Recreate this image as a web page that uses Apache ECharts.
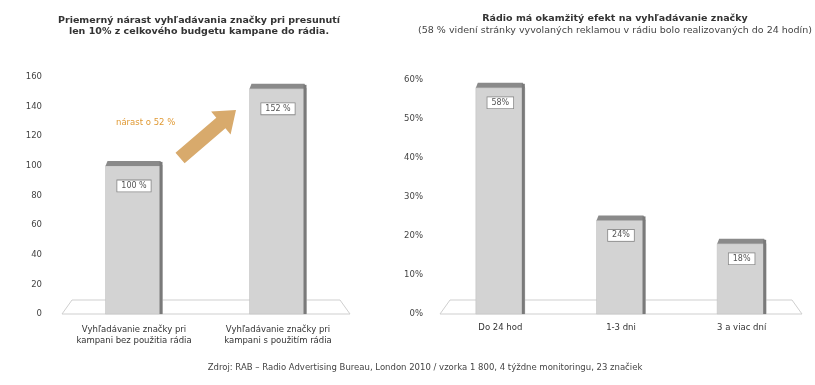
<!DOCTYPE html>
<html><head><meta charset="utf-8">
<script src="https://cdn.jsdelivr.net/npm/echarts@6/dist/echarts.min.js"></script>
<style>html,body{margin:0;padding:0;background:#fff}#c{width:815px;height:385px}</style>
</head><body><div id="c"></div>
<script>
// Data
const leftCategories = ['Vyhľadávanie značky pri\nkampani bez použitia rádia', 'Vyhľadávanie značky pri\nkampani s použitím rádia'];
const leftValues = [100, 152];
const leftLabels = ['100 %', '152 %'];
const rightCategories = ['Do 24 hod', '1-3 dni', '3 a viac dní'];
const rightValues = [58, 24, 18];
const rightLabels = ['58%', '24%', '18%'];

const chart = echarts.init(document.getElementById('c'));
const FONT = 'DejaVu Sans, Verdana, sans-serif';

function makeRender(labels, barW, labelOff) {
  return function (params, api) {
    const idx = api.value(0);
    const val = api.value(1);
    const top = api.coord([idx, val]);
    const base = api.coord([idx, 0]);
    const cs = params.coordSys;
    const x0 = top[0] - barW / 2, x1 = top[0] + barW / 2;
    const d = 5;
    const children = [];
    if (params.dataIndex === 0) {
      children.push({
        type: 'polygon', z2: 0,
        shape: { points: [[cs.x, cs.y + cs.height], [cs.x + cs.width, cs.y + cs.height], [cs.x + cs.width - 10, cs.y + cs.height - 14], [cs.x + 10, cs.y + cs.height - 14]] },
        style: { fill: '#ffffff', stroke: '#cfcfcf', lineWidth: 1 }
      });
    }
    children.push({
      type: 'rect', z2: 5,
      shape: { x: x0, y: top[1], width: barW, height: base[1] - top[1] },
      style: { fill: '#d3d3d3', stroke: '#bdbdbd', lineWidth: 0.5 }
    });
    children.push({
      type: 'polygon', z2: 6,
      shape: { points: [[x0, top[1]], [x1, top[1]], [x1 - 2, top[1] - d], [x0 + 2, top[1] - d]] },
      style: { fill: '#8a8a8a' }
    });
    children.push({
      type: 'rect', z2: 6,
      shape: { x: x1 - 3, y: top[1] - d + 1, width: 3, height: base[1] - top[1] + d - 1 },
      style: { fill: '#7a7a7a' }
    });
    children.push({
      type: 'text', z2: 7,
      x: top[0], y: top[1] + labelOff,
      style: {
        text: labels[idx], align: 'center', verticalAlign: 'middle',
        fontFamily: FONT, fontSize: 8, fill: '#555',
        backgroundColor: '#ffffff', borderColor: '#888', borderWidth: 0.8,
        padding: [2, 4, 1, 4]
      }
    });
    return { type: 'group', children };
  };
}

const axisLabelStyle = { fontFamily: FONT, fontSize: 8.5, color: '#444' };

chart.setOption({
  backgroundColor: '#fff',
  animation: false,
  title: [
    { text: 'Priemerný nárast vyhľadávania značky pri presunutí\nlen 10% z celkového budgetu kampane do rádia.', left: 194, top: 10, textAlign: 'center',
      textStyle: { fontFamily: FONT, fontSize: 9.5, fontWeight: 'bold', color: '#333', lineHeight: 11 } },
    { text: 'Rádio má okamžitý efekt na vyhľadávanie značky', left: 610, top: 9, textAlign: 'center',
      textStyle: { fontFamily: FONT, fontSize: 9.5, fontWeight: 'bold', color: '#333' } },
    { text: '(58 % videní stránky vyvolaných reklamou v rádiu bolo realizovaných do 24 hodín)', left: 610, top: 21, textAlign: 'center',
      textStyle: { fontFamily: FONT, fontSize: 9.5, fontWeight: 'normal', color: '#444' } },
    { text: 'Zdroj: RAB – Radio Advertising Bureau, London 2010 / vzorka 1 800, 4 týždne monitoringu, 23 značiek', left: 420, top: 358, textAlign: 'center',
      textStyle: { fontFamily: FONT, fontSize: 8.5, fontWeight: 'normal', color: '#444' } }
  ],
  grid: [
    { left: 62, top: 77, width: 288, height: 237 },
    { left: 440, top: 80, width: 362, height: 234 }
  ],
  xAxis: [
    { type: 'category', gridIndex: 0, data: leftCategories, axisLine: { show: false }, axisTick: { show: false },
      axisLabel: { interval: 0, fontFamily: FONT, margin: 10, lineHeight: 11, fontSize: 8.5, color: '#333' } },
    { type: 'category', gridIndex: 1, data: rightCategories, axisLine: { show: false }, axisTick: { show: false },
      axisLabel: { interval: 0, fontFamily: FONT, fontSize: 8.5, color: '#333', margin: 9 } }
  ],
  yAxis: [
    { type: 'value', gridIndex: 0, min: 0, max: 160, interval: 20, axisLine: { show: false }, axisTick: { show: false },
      splitLine: { show: false }, axisLabel: Object.assign({ margin: 20 }, axisLabelStyle) },
    { type: 'value', gridIndex: 1, min: 0, max: 60, interval: 10, axisLine: { show: false }, axisTick: { show: false },
      splitLine: { show: false }, axisLabel: Object.assign({ margin: 17, formatter: '{value}%' }, axisLabelStyle) }
  ],
  series: [
    { type: 'custom', xAxisIndex: 0, yAxisIndex: 0, renderItem: makeRender(leftLabels, 57, 20),
      data: leftValues.map((v, i) => [i, v]) },
    { type: 'custom', xAxisIndex: 1, yAxisIndex: 1, renderItem: makeRender(rightLabels, 49, 15),
      data: rightValues.map((v, i) => [i, v]) }
  ],
  graphic: [
    { type: 'polygon', shape: { points: [[175.5, 152.7], [216.3, 117.7], [211.1, 111.6], [236, 110], [230.6, 134.4], [225.4, 128.3], [184.6, 163.3]] },
      style: { fill: '#d8aa6c' } },
    { type: 'text', left: 116, top: 118, style: { text: 'nárast o 52 %', fontFamily: FONT, fontSize: 8.5, fill: '#e09a35' } }
  ]
});
</script></body></html>
